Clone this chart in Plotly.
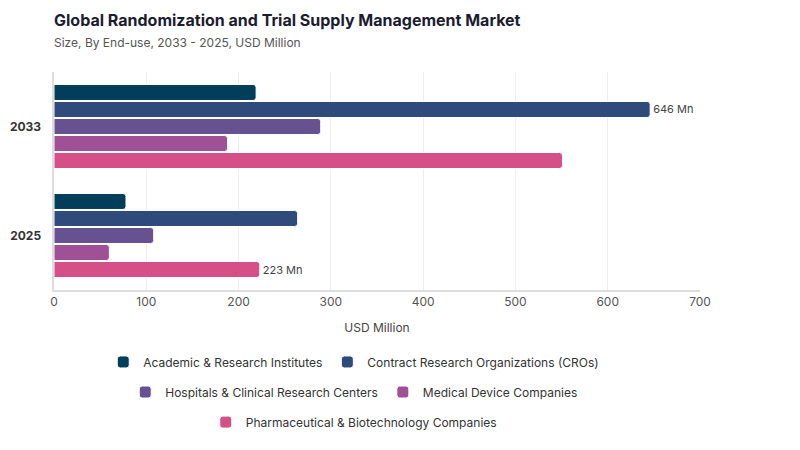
import plotly.graph_objects as go

# categories / series
years = ["2025", "2033"]
segments = [
    "Academic & Research Institutes",
    "Contract Research Organizations (CROs)",
    "Hospitals & Clinical Research Centers",
    "Medical Device Companies",
    "Pharmaceutical & Biotechnology Companies",
]
academic = [78, 219]
cros = [264, 646]
hospitals = [108, 289]
medical = [60, 188]
pharma = [223, 551]
labels = {
    "Contract Research Organizations (CROs)": ["", "646 Mn"],
    "Pharmaceutical & Biotechnology Companies": ["223 Mn", ""],
}

colors = ["#023e5a", "#2f4b7c", "#665191", "#a05195", "#d45087"]
values = [academic, cros, hospitals, medical, pharma]
legend_of = ["legend", "legend", "legend2", "legend2", "legend3"]

fig = go.Figure()
# reversed so first segment sits on top of each group
for name, vals, col, lg in reversed(list(zip(segments, values, colors, legend_of))):
    fig.add_trace(go.Bar(
        y=years, x=vals, name=name, orientation="h",
        marker=dict(color=col, line=dict(color="white", width=1)),
        text=labels.get(name, ["", ""]), textposition="outside",
        textfont=dict(size=11, color="#444"), cliponaxis=False,
        legend=lg,
    ))

leg = dict(orientation="h", x=0.464, xanchor="center", itemwidth=30,
           yanchor="middle", font=dict(size=12, color="#333"),
           traceorder="reversed", bgcolor="rgba(0,0,0,0)")

fig.update_layout(
    width=800, height=450,
    paper_bgcolor="white", plot_bgcolor="white",
    font=dict(family="Inter", color="#333"),
    margin=dict(l=46, r=108, t=64, b=168, autoexpand=False),
    barmode="group", bargap=0.22, bargroupgap=0.06, barcornerradius=3,
    title=dict(
        text="<b>Global Randomization and Trial Supply Management Market</b>"
             "<br><span style='font-size:12px;color:#555'>Size, By End-use, 2033 - 2025, USD Million</span>",
        x=46 / 800, xanchor="left", y=0.96, yanchor="top",
        font=dict(size=16, color="#1c1c30"),
    ),
    xaxis=dict(
        range=[0, 700], dtick=100, showgrid=True, gridcolor="#eeeeee",
        showline=True, linecolor="#dddddd", linewidth=2, zeroline=False,
        tickfont=dict(size=12, color="#555"), tickangle=0,
        title=dict(text="USD Million", font=dict(size=12, color="#444"), standoff=15),
    ),
    yaxis=dict(
        type="category", showline=True, linecolor="#dddddd", linewidth=2,
        tickfont=dict(size=12, color="#333", weight="bold"), ticksuffix="   ",
    ),
    legend=dict(leg, y=-0.33),
    legend2=dict(leg, y=-0.468),
    legend3=dict(leg, y=-0.606),
)

fig.write_html("out.html")
